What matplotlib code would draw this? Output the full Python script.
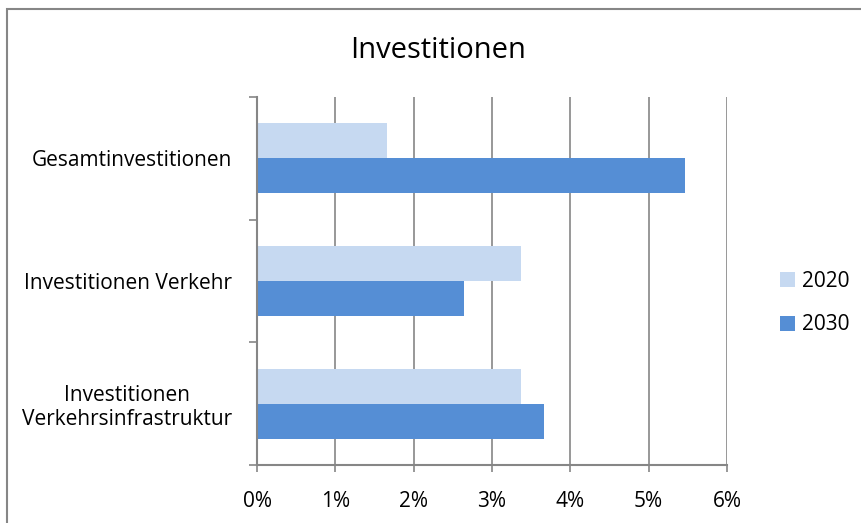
import matplotlib
matplotlib.use("Agg")
import matplotlib.pyplot as plt
import matplotlib.patches as mpatches
import numpy as np

# Daten (Anteile in %)
kategorien = ["Gesamtinvestitionen", "Investitionen Verkehr",
              "Investitionen\nVerkehrsinfrastruktur"]
werte_2020 = [1.66, 3.37, 3.37]
werte_2030 = [5.47, 2.64, 3.67]
serien = ["2020", "2030"]
x_ticks = [0, 1, 2, 3, 4, 5, 6]

plt.rcParams['font.family'] = ['Open Sans', 'DejaVu Sans']
grau = "#868686"
fs = 15

fig = plt.figure(figsize=(8.62, 5.23), dpi=100)
ax = fig.add_axes([257 / 862, 1 - 465 / 523, 470 / 862, 368 / 523])

# Rahmen um das Diagramm
fig.patches.append(mpatches.Rectangle((7 / 862, -0.05), 1.2, 1 - 9 / 523 + 0.05,
                                      transform=fig.transFigure, fill=False,
                                      edgecolor=grau, linewidth=1.5))

y = np.arange(len(kategorien))
h = 0.285
b1 = ax.barh(y - h / 2, werte_2020, height=h, color="#C6D9F1", label=serien[0], zorder=3)
b2 = ax.barh(y + h / 2, werte_2030, height=h, color="#558ED5", label=serien[1], zorder=3)

ax.set_xlim(0, 6)
ax.set_ylim(len(kategorien) - 0.5, -0.5)
ax.set_xticks(x_ticks)
ax.set_xticklabels([f"{t}%" for t in x_ticks], fontsize=fs)
ax.set_yticks(y)
ax.set_yticklabels(kategorien, fontsize=fs, multialignment='center', linespacing=1.15)
ax.set_yticks(np.arange(-0.5, len(kategorien)), minor=True)
ax.tick_params(axis='y', which='major', length=0, pad=18)
ax.tick_params(axis='y', which='minor', length=6, width=1.2, color=grau, direction='out')
ax.tick_params(axis='x', length=5, width=1.2, color=grau, pad=14)

ax.grid(axis='x', color=grau, linewidth=1.2, zorder=0)
for s in ["top", "right"]:
    ax.spines[s].set_visible(False)
for s in ["left", "bottom"]:
    ax.spines[s].set_color(grau)
    ax.spines[s].set_linewidth(1.5)
    ax.spines[s].set_zorder(4)

fig.text(438 / 862, 1 - 51 / 523, "Investitionen", fontsize=21, ha='center', va='center')

ax.legend(handles=[b1, b2], loc='center left', bbox_to_anchor=(772 / 862, 1 - 303 / 523),
          bbox_transform=fig.transFigure, frameon=False, fontsize=fs,
          handlelength=0.72, handleheight=0.72, handletextpad=0.3, labelspacing=1.1,
          borderaxespad=0)

fig.savefig("out.png", dpi=100)
